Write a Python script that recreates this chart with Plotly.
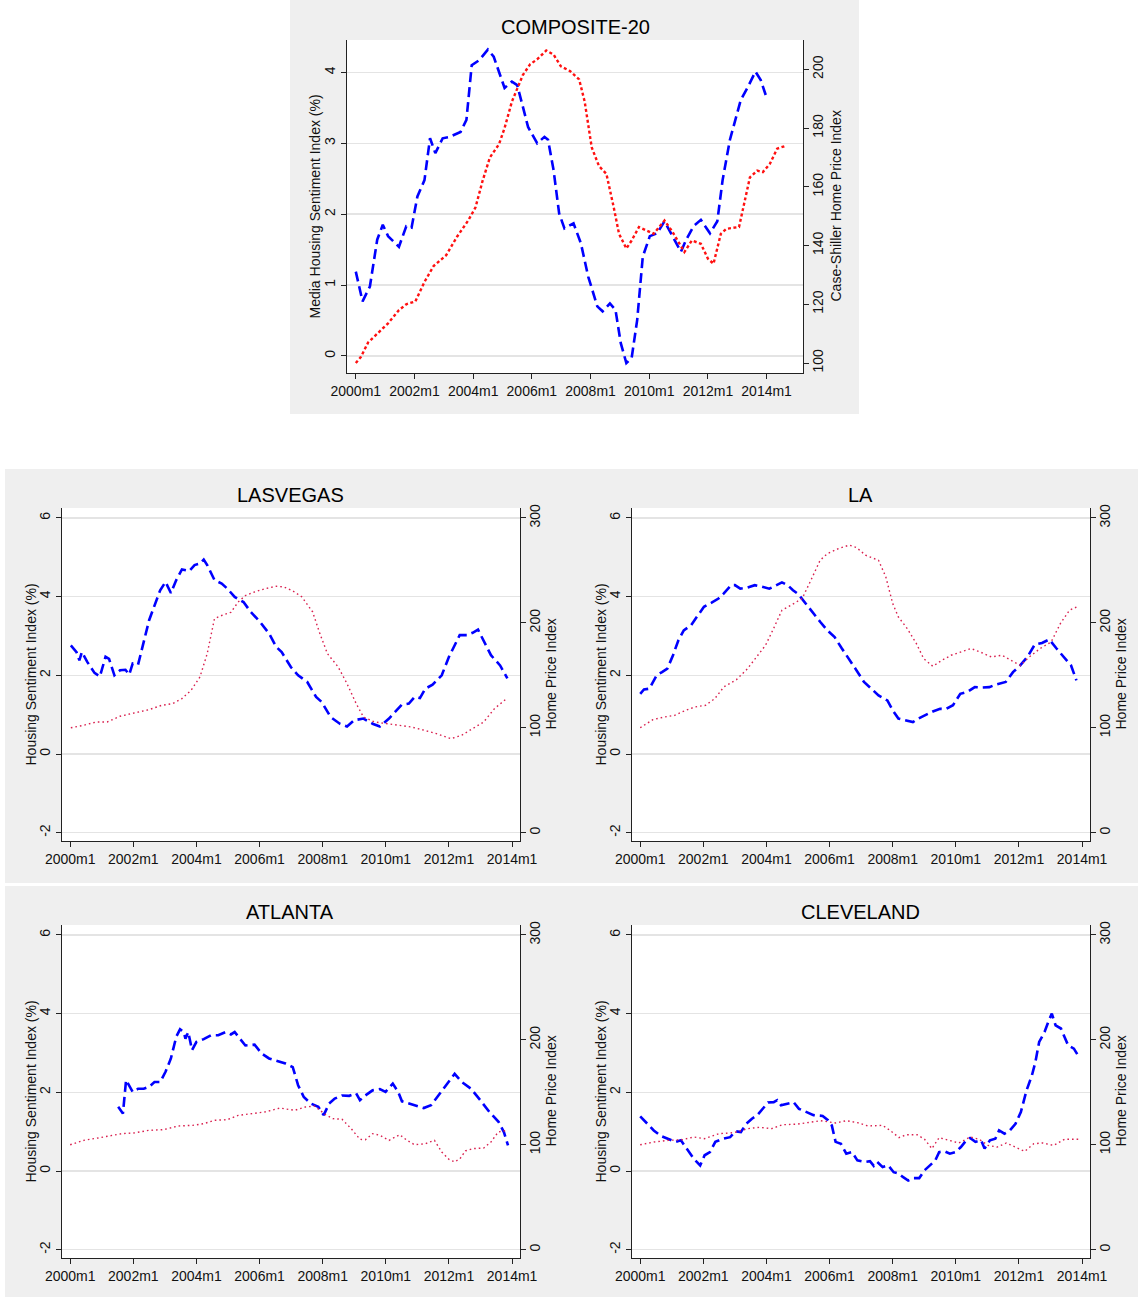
import plotly.graph_objects as go

# ---------------- DATA ----------------
year_ticks = [2000, 2002, 2004, 2006, 2008, 2010, 2012, 2014]
year_tick_labels = ["2000m1", "2002m1", "2004m1", "2006m1", "2008m1", "2010m1", "2012m1", "2014m1"]

# COMPOSITE-20
comp_sent_x = [2000.0, 2000.23, 2000.48, 2000.73, 2000.92, 2001.1, 2001.47, 2001.72, 2001.9, 2002.1,
               2002.34, 2002.53, 2002.71, 2002.96, 2003.2, 2003.57, 2003.77, 2003.95, 2004.2, 2004.5,
               2004.7, 2004.88, 2005.07, 2005.32, 2005.5, 2005.69, 2005.87, 2006.18, 2006.43, 2006.55,
               2006.74, 2006.93, 2007.11, 2007.42, 2007.67, 2007.92, 2008.23, 2008.41, 2008.66, 2008.85,
               2009.03, 2009.22, 2009.4, 2009.59, 2009.78, 2010.02, 2010.27, 2010.52, 2010.77, 2011.08,
               2011.26, 2011.51, 2011.76, 2012.07, 2012.32, 2012.5, 2012.75, 2013.12, 2013.37, 2013.62,
               2013.8, 2013.97]
comp_sent_y = [1.19, 0.77, 0.98, 1.64, 1.85, 1.69, 1.54, 1.83, 1.81, 2.25,
               2.48, 3.07, 2.86, 3.07, 3.09, 3.16, 3.33, 4.10, 4.17, 4.32,
               4.22, 3.99, 3.78, 3.87, 3.82, 3.52, 3.23, 3.00, 3.09, 3.05,
               2.62, 2.01, 1.80, 1.87, 1.59, 1.12, 0.70, 0.63, 0.74, 0.65,
               0.18, -0.10, -0.03, 0.51, 1.40, 1.69, 1.73, 1.90, 1.71, 1.47,
               1.64, 1.83, 1.92, 1.73, 1.90, 2.48, 3.05, 3.61, 3.80, 4.01,
               3.89, 3.68]
comp_hpi_x = [2000.0, 2000.17, 2000.42, 2000.73, 2001.1, 2001.47, 2001.72, 2002.03, 2002.34, 2002.65,
              2003.08, 2003.45, 2003.83, 2004.08, 2004.32, 2004.57, 2004.88, 2005.07, 2005.32, 2005.69,
              2005.94, 2006.18, 2006.49, 2006.74, 2006.99, 2007.3, 2007.61, 2007.8, 2008.04, 2008.29,
              2008.54, 2008.79, 2008.97, 2009.22, 2009.4, 2009.65, 2009.96, 2010.15, 2010.52, 2010.77,
              2011.2, 2011.45, 2011.76, 2012.0, 2012.19, 2012.44, 2012.63, 2013.06, 2013.43, 2013.68,
              2013.87, 2014.11, 2014.36, 2014.67]
comp_hpi_y = [100.0, 102.0, 107.0, 110.0, 113.5, 118.0, 120.0, 121.0, 127.6, 133.0,
              136.7, 143.0, 148.5, 153.0, 162.0, 170.0, 174.5, 180.0, 189.0, 198.0,
              201.7, 203.4, 206.4, 205.0, 201.0, 199.4, 196.6, 189.0, 173.4, 167.0,
              164.4, 153.0, 144.0, 139.0, 141.7, 146.3, 145.0, 144.0, 148.5, 145.0,
              137.8, 141.7, 140.6, 135.5, 133.8, 144.0, 145.7, 146.3, 163.2, 165.5,
              165.0, 167.8, 173.0, 174.0]

# LAS VEGAS
lv_sent_x = [2000.02, 2000.2, 2000.29, 2000.37, 2000.54, 2000.77, 2000.94, 2001.12, 2001.23, 2001.4,
             2001.58, 2001.75, 2001.87, 2001.98, 2002.15, 2002.27, 2002.5, 2002.85, 2003.02, 2003.19,
             2003.36, 2003.54, 2003.77, 2003.94, 2004.11, 2004.23, 2004.34, 2004.57, 2004.8, 2004.98,
             2005.21, 2005.49, 2005.72, 2006.01, 2006.3, 2006.53, 2006.7, 2006.99, 2007.22, 2007.51,
             2007.79, 2007.97, 2008.25, 2008.54, 2008.77, 2009.0, 2009.29, 2009.58, 2009.81, 2010.1,
             2010.33, 2010.5, 2010.73, 2010.91, 2011.08, 2011.25, 2011.48, 2011.77, 2012.0, 2012.34,
             2012.57, 2012.75, 2012.92, 2013.1, 2013.33, 2013.62, 2013.85]
lv_sent_y = [2.76, 2.59, 2.38, 2.59, 2.34, 2.06, 1.97, 2.47, 2.42, 2.00,
             2.13, 2.14, 2.02, 2.30, 2.27, 2.64, 3.40, 4.16, 4.37, 4.09,
             4.42, 4.69, 4.65, 4.80, 4.84, 4.94, 4.80, 4.42, 4.33, 4.20,
             3.99, 3.86, 3.61, 3.36, 3.06, 2.72, 2.59, 2.21, 2.00, 1.83,
             1.45, 1.32, 0.94, 0.77, 0.70, 0.86, 0.90, 0.77, 0.70, 0.90,
             1.11, 1.25, 1.28, 1.45, 1.42, 1.66, 1.76, 2.00, 2.47, 3.02,
             3.02, 3.08, 3.16, 2.89, 2.51, 2.25, 1.92]
lv_hpi_x = [2000.02, 2000.43, 2000.83, 2001.17, 2001.58, 2002.03, 2002.5, 2002.9, 2003.25, 2003.54,
            2003.83, 2004.11, 2004.34, 2004.57, 2004.8, 2005.09, 2005.32, 2005.55, 2005.84, 2006.18,
            2006.53, 2006.76, 2007.05, 2007.34, 2007.68, 2007.91, 2008.15, 2008.49, 2008.77, 2009.06,
            2009.29, 2009.64, 2009.98, 2010.33, 2010.79, 2011.14, 2011.6, 2012.06, 2012.4, 2012.75,
            2013.1, 2013.44, 2013.85]
lv_hpi_y = [100.0, 102.4, 105.5, 105.5, 111.0, 114.0, 117.3, 121.4, 123.0, 127.8,
            135.7, 148.4, 170.6, 204.0, 207.0, 210.0, 219.8, 226.0, 229.4, 232.6,
            234.8, 234.3, 230.4, 224.7, 210.4, 189.7, 170.6, 157.9, 142.0, 123.0,
            110.3, 105.5, 104.0, 102.3, 100.8, 98.2, 94.4, 89.6, 92.8, 99.2,
            105.5, 118.2, 128.4]

# LA
la_sent_x = [2000.0, 2000.12, 2000.29, 2000.52, 2000.69, 2000.86, 2001.04, 2001.21, 2001.38, 2001.61,
             2001.79, 2002.02, 2002.25, 2002.48, 2002.65, 2002.88, 2003.0, 2003.17, 2003.4, 2003.63,
             2003.86, 2004.09, 2004.32, 2004.49, 2004.67, 2004.84, 2005.01, 2005.24, 2005.47, 2005.7,
             2005.93, 2006.16, 2006.39, 2006.62, 2006.85, 2007.09, 2007.32, 2007.55, 2007.83, 2008.0,
             2008.18, 2008.41, 2008.64, 2008.81, 2009.04, 2009.27, 2009.5, 2009.68, 2009.91, 2010.14,
             2010.37, 2010.6, 2010.83, 2011.06, 2011.29, 2011.58, 2011.81, 2012.04, 2012.27, 2012.5,
             2012.73, 2012.96, 2013.19, 2013.42, 2013.65, 2013.82]
la_sent_y = [1.53, 1.64, 1.66, 2.00, 2.08, 2.17, 2.51, 2.89, 3.14, 3.27,
             3.48, 3.74, 3.84, 3.95, 4.08, 4.29, 4.29, 4.20, 4.23, 4.29,
             4.25, 4.20, 4.29, 4.36, 4.29, 4.16, 4.06, 3.82, 3.61, 3.36,
             3.14, 2.97, 2.68, 2.42, 2.13, 1.83, 1.66, 1.49, 1.36, 1.11,
             0.90, 0.86, 0.81, 0.90, 1.00, 1.08, 1.15, 1.14, 1.24, 1.53,
             1.58, 1.70, 1.69, 1.70, 1.77, 1.83, 2.08, 2.25, 2.47, 2.78,
             2.82, 2.91, 2.68, 2.47, 2.25, 1.87]
la_hpi_x = [2000.0, 2000.4, 2000.75, 2001.09, 2001.44, 2001.73, 2002.07, 2002.36, 2002.65, 2003.05,
            2003.4, 2003.69, 2003.97, 2004.2, 2004.49, 2004.78, 2005.13, 2005.41, 2005.7, 2005.93,
            2006.28, 2006.62, 2006.85, 2007.14, 2007.55, 2007.78, 2008.0, 2008.18, 2008.46, 2008.75,
            2008.98, 2009.27, 2009.56, 2009.85, 2010.14, 2010.48, 2010.77, 2011.12, 2011.46, 2011.75,
            2012.04, 2012.33, 2012.67, 2013.02, 2013.31, 2013.6, 2013.82]
la_hpi_y = [100.0, 107.7, 110.2, 111.8, 116.6, 119.8, 121.4, 127.7, 138.9, 145.9,
            156.3, 167.5, 178.6, 192.9, 212.0, 216.8, 223.1, 240.7, 259.6, 265.9,
            270.7, 274.0, 271.8, 264.4, 259.6, 243.8, 218.3, 205.5, 194.5, 180.2,
            165.9, 158.6, 164.3, 169.1, 172.2, 175.5, 172.2, 167.5, 169.1, 164.3,
            159.5, 167.5, 175.5, 181.8, 199.2, 212.0, 215.0]

# ATLANTA
atl_sent_x = [2001.52, 2001.67, 2001.77, 2001.87, 2001.98, 2002.15, 2002.33, 2002.5, 2002.67, 2002.85,
              2003.02, 2003.19, 2003.36, 2003.48, 2003.6, 2003.65, 2003.74, 2003.86, 2004.0, 2004.23,
              2004.46, 2004.69, 2004.92, 2005.09, 2005.21, 2005.38, 2005.55, 2005.84, 2006.07, 2006.3,
              2006.53, 2006.82, 2007.05, 2007.22, 2007.4, 2007.63, 2007.86, 2008.03, 2008.2, 2008.38,
              2008.61, 2008.84, 2009.06, 2009.18, 2009.35, 2009.58, 2009.81, 2009.99, 2010.22, 2010.39,
              2010.51, 2010.74, 2010.97, 2011.2, 2011.43, 2011.66, 2011.89, 2012.18, 2012.41, 2012.7,
              2012.99, 2013.28, 2013.57, 2013.74, 2013.87]
atl_sent_y = [1.63, 1.46, 2.31, 2.18, 2.01, 2.09, 2.09, 2.14, 2.26, 2.26,
              2.52, 2.86, 3.41, 3.60, 3.53, 3.36, 3.53, 3.07, 3.28, 3.35,
              3.45, 3.45, 3.53, 3.47, 3.53, 3.36, 3.19, 3.21, 2.98, 2.86,
              2.81, 2.73, 2.64, 2.18, 1.88, 1.71, 1.63, 1.42, 1.71, 1.84,
              1.92, 1.91, 1.97, 1.80, 1.92, 2.05, 2.08, 2.01, 2.22, 2.01,
              1.77, 1.71, 1.65, 1.60, 1.67, 1.92, 2.18, 2.47, 2.26, 2.09,
              1.80, 1.50, 1.25, 0.99, 0.65]
atl_hpi_x = [2000.0, 2000.43, 2000.89, 2001.23, 2001.64, 2002.04, 2002.5, 2002.96, 2003.42, 2003.88,
             2004.23, 2004.57, 2004.98, 2005.32, 2005.72, 2006.18, 2006.65, 2007.11, 2007.45, 2007.74,
             2008.09, 2008.32, 2008.61, 2008.9, 2009.18, 2009.35, 2009.58, 2009.81, 2010.1, 2010.44,
             2010.67, 2010.91, 2011.25, 2011.54, 2011.77, 2012.0, 2012.18, 2012.35, 2012.52, 2012.75,
             2013.1, 2013.33, 2013.56, 2013.87]
atl_hpi_y = [100.0, 104.2, 106.5, 108.4, 110.6, 111.3, 113.8, 114.4, 117.9, 118.5,
             120.1, 123.3, 123.9, 128.0, 129.6, 131.3, 135.0, 132.8, 136.0, 136.9,
             128.7, 124.9, 124.3, 115.4, 105.2, 104.8, 110.6, 109.0, 104.2, 109.6,
             104.2, 100.0, 101.0, 104.2, 93.1, 86.1, 83.6, 86.8, 94.1, 96.3,
             96.9, 102.6, 112.2, 113.8]

# CLEVELAND
cle_sent_x = [2000.0, 2000.2, 2000.43, 2000.66, 2000.89, 2001.12, 2001.29, 2001.47, 2001.7, 2001.9,
              2002.04, 2002.21, 2002.38, 2002.62, 2002.85, 2003.02, 2003.19, 2003.36, 2003.54, 2003.71,
              2003.88, 2004.05, 2004.23, 2004.34, 2004.46, 2004.69, 2004.86, 2005.03, 2005.26, 2005.49,
              2005.78, 2005.95, 2006.07, 2006.19, 2006.36, 2006.53, 2006.71, 2006.88, 2007.11, 2007.28,
              2007.4, 2007.51, 2007.68, 2007.86, 2008.03, 2008.2, 2008.32, 2008.49, 2008.66, 2008.84,
              2009.01, 2009.18, 2009.35, 2009.47, 2009.64, 2009.81, 2009.99, 2010.16, 2010.33, 2010.45,
              2010.62, 2010.8, 2010.91, 2011.08, 2011.25, 2011.37, 2011.54, 2011.71, 2011.89, 2012.06,
              2012.24, 2012.41, 2012.52, 2012.64, 2012.81, 2012.93, 2013.04, 2013.16, 2013.33, 2013.44,
              2013.56, 2013.74, 2013.88]
cle_sent_y = [1.39, 1.23, 1.03, 0.89, 0.81, 0.74, 0.78, 0.57, 0.31, 0.14,
              0.40, 0.48, 0.74, 0.82, 0.86, 1.01, 0.99, 1.20, 1.33, 1.42,
              1.58, 1.74, 1.75, 1.80, 1.67, 1.71, 1.75, 1.58, 1.50, 1.42,
              1.40, 1.29, 1.16, 0.74, 0.69, 0.44, 0.48, 0.27, 0.23, 0.25,
              0.13, 0.23, 0.10, 0.14, -0.03, -0.07, -0.15, -0.24, -0.18, -0.18,
              0.02, 0.14, 0.27, 0.48, 0.50, 0.44, 0.48, 0.61, 0.78, 0.84,
              0.74, 0.78, 0.57, 0.78, 0.82, 1.03, 0.95, 1.03, 1.20, 1.50,
              2.05, 2.43, 2.77, 3.28, 3.53, 3.79, 4.00, 3.70, 3.62, 3.41,
              3.19, 3.11, 2.92]
cle_hpi_x = [2000.0, 2000.43, 2000.89, 2001.35, 2001.7, 2002.04, 2002.5, 2002.96, 2003.42, 2003.77,
             2004.17, 2004.51, 2004.98, 2005.38, 2005.72, 2006.19, 2006.53, 2006.88, 2007.22, 2007.68,
             2007.91, 2008.2, 2008.43, 2008.77, 2009.01, 2009.24, 2009.47, 2009.7, 2010.1, 2010.45,
             2010.74, 2011.02, 2011.31, 2011.6, 2011.89, 2012.18, 2012.47, 2012.75, 2013.1, 2013.44,
             2013.88]
cle_hpi_y = [100.0, 102.6, 104.2, 104.9, 107.4, 105.8, 110.6, 111.5, 115.4, 116.6,
             115.4, 119.1, 119.7, 121.7, 122.9, 120.8, 122.9, 121.1, 117.9, 118.5,
             113.8, 106.8, 109.6, 109.6, 105.2, 96.3, 106.8, 104.9, 101.7, 107.4,
             105.2, 99.4, 97.8, 101.7, 97.8, 93.7, 101.0, 101.7, 99.4, 105.2,
             105.2]

panel_titles = ["COMPOSITE-20", "LASVEGAS", "LA", "ATLANTA", "CLEVELAND"]
comp_left_title = "Media Housing Sentiment Index (%)"
comp_right_title = "Case-Shiller Home Price Index"
city_left_title = "Housing Sentiment Index (%)"
city_right_title = "Home Price Index"
comp_left_ticks = [0, 1, 2, 3, 4]
comp_right_ticks = [100, 120, 140, 160, 180, 200]
city_left_ticks = [-2, 0, 2, 4, 6]
city_left_tick_labels = ["-2", "0", "2", "4", "6"]
city_right_ticks = [0, 100, 200, 300]

# ---------------- LAYOUT (pixel geometry) ----------------
W, H = 1138, 1297
FONT = "Liberation Sans, Arial, Helvetica, sans-serif"


def px(x):
    return x / W


def py(y):
    return 1 - y / H


# (x0, x1, ytop, ybottom) of each plot area in pixels
boxes = [
    (347, 803, 40, 373),
    (62, 520, 508, 841),
    (632, 1090, 508, 841),
    (62, 520, 925, 1258),
    (632, 1090, 925, 1258),
]
xranges = [[1999.70, 2015.24]] + [[1999.74, 2014.25]] * 4
lranges = [[-0.24, 4.456]] + [[-2.21, 6.25]] * 4
rranges = [[96.6, 209.98]] + [[-7.9, 309.4]] * 4

series = [
    (comp_sent_x, comp_sent_y, comp_hpi_x, comp_hpi_y),
    (lv_sent_x, lv_sent_y, lv_hpi_x, lv_hpi_y),
    (la_sent_x, la_sent_y, la_hpi_x, la_hpi_y),
    (atl_sent_x, atl_sent_y, atl_hpi_x, atl_hpi_y),
    (cle_sent_x, cle_sent_y, cle_hpi_x, cle_hpi_y),
]

fig = go.Figure()
layout = dict(
    width=W, height=H, autosize=False,
    margin=dict(l=0, r=0, t=0, b=0, pad=0, autoexpand=False),
    paper_bgcolor="white", plot_bgcolor="white", showlegend=False,
    font=dict(family=FONT, size=14, color="#111"),
)

shapes = []
# gray graph regions
for (x0, x1, y0, y1) in [(290, 859, 0, 414), (5, 1138, 469, 883), (5, 1138, 886, 1297)]:
    shapes.append(dict(type="rect", xref="paper", yref="paper", x0=px(x0), x1=px(x1),
                       y0=py(y1), y1=py(y0), fillcolor="#efefef", line=dict(width=0), layer="below"))
# white plot regions
for (x0, x1, yt, yb) in boxes:
    shapes.append(dict(type="rect", xref="paper", yref="paper", x0=px(x0), x1=px(x1),
                       y0=py(yb), y1=py(yt), fillcolor="white", line=dict(width=0), layer="below"))

annotations = []
axis_common = dict(showline=True, linecolor="#222", linewidth=1.2, ticks="outside",
                   ticklen=5, tickcolor="#222", tickwidth=1, zeroline=False, automargin=False,
                   tickfont=dict(family=FONT, size=14, color="#111"))

title_pos = [(575, 27), (290, 495), (860, 495), (290, 912), (860, 912)]

for i in range(5):
    n = i + 1
    r = i + 6
    x0, x1, yt, yb = boxes[i]
    sx, sy, hx, hy = series[i]
    comp = (i == 0)
    xa = "x" if n == 1 else f"x{n}"
    yl = "y" if n == 1 else f"y{n}"
    yr = f"y{r}"

    fig.add_trace(go.Scatter(
        x=sx, y=sy, xaxis=xa, yaxis=yl, mode="lines",
        line=dict(color="#0000ff", width=2.6, dash="10px,5px"), hoverinfo="skip"))
    if comp:
        red_line = dict(color="#ff1010", width=2.4, dash="3px,2.5px")
    else:
        red_line = dict(color="#d9204f", width=1.4, dash="1.6px,3px")
    fig.add_trace(go.Scatter(
        x=hx, y=hy, xaxis=xa, yaxis=yr, mode="lines", line=red_line, hoverinfo="skip"))

    xkey = "xaxis" if n == 1 else f"xaxis{n}"
    ylkey = "yaxis" if n == 1 else f"yaxis{n}"
    yrkey = f"yaxis{r}"
    layout[xkey] = dict(axis_common, domain=[px(x0), px(x1)], anchor=yl, range=xranges[i],
                        tickvals=year_ticks, ticktext=year_tick_labels, showgrid=False)
    if comp:
        ltv, ltt = comp_left_ticks, [str(v) for v in comp_left_ticks]
    else:
        ltv, ltt = city_left_ticks, city_left_tick_labels
    layout[ylkey] = dict(axis_common, domain=[py(yb), py(yt)], anchor=xa, range=lranges[i],
                         tickvals=ltv, ticktext=ltt,
                         tickangle=-90, showgrid=True, gridcolor="#e4e4e4", gridwidth=1.5)
    layout[yrkey] = dict(axis_common, overlaying=yl, side="right", anchor=xa, range=rranges[i],
                         tickvals=comp_right_ticks if comp else city_right_ticks,
                         tickangle=-90, showgrid=False, ticklabelstandoff=-3)

    tx, ty = title_pos[i]
    annotations.append(dict(text=panel_titles[i], x=px(tx), y=py(ty), xref="paper", yref="paper",
                            showarrow=False, xanchor="center", yanchor="middle",
                            font=dict(family=FONT, size=20, color="#000")))
    ymid = (yt + yb) / 2
    if comp:
        lx, rx = 314, 835
        lt, rt = comp_left_title, comp_right_title
    else:
        lx, rx = x0 - 32, x1 + 30
        lt, rt = city_left_title, city_right_title
    annotations.append(dict(text=lt, x=px(lx), y=py(ymid), xref="paper", yref="paper",
                            showarrow=False, textangle=-90, xanchor="center", yanchor="middle",
                            font=dict(family=FONT, size=14, color="#111")))
    annotations.append(dict(text=rt, x=px(rx), y=py(ymid), xref="paper", yref="paper",
                            showarrow=False, textangle=-90, xanchor="center", yanchor="middle",
                            font=dict(family=FONT, size=14, color="#111")))

layout["shapes"] = shapes
layout["annotations"] = annotations
fig.update_layout(**layout)
fig.write_html(
    "out.html",
    config={"displayModeBar": False, "staticPlot": True},
    post_script="document.body.style.margin='0';document.body.style.padding='0';"
                "document.documentElement.style.overflow='hidden';",
)
